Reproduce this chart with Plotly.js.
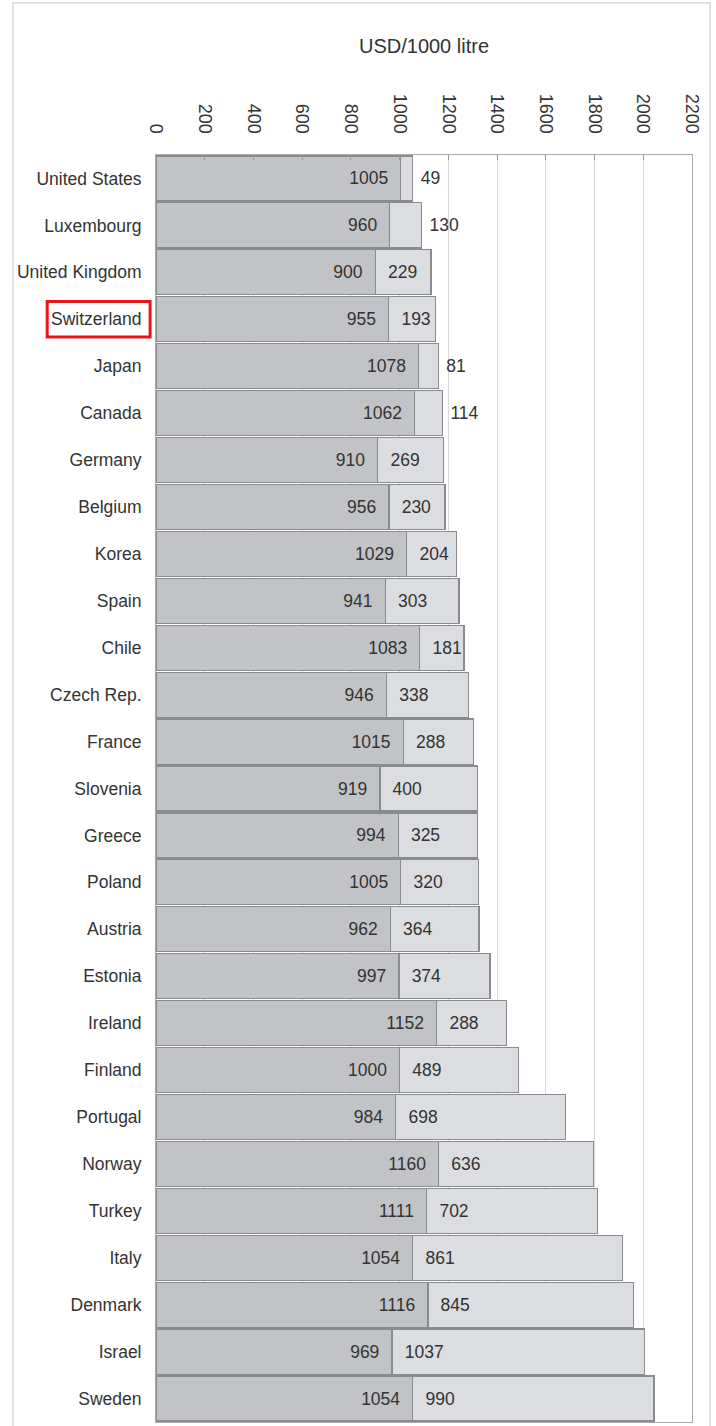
<!DOCTYPE html>
<html>
<head>
<meta charset="utf-8">
<script src="https://cdn.plot.ly/plotly-3.0.1.min.js"></script>
<style>html,body{margin:0;padding:0;background:#fff;}#chart{width:716px;height:1426px;}</style>
</head>
<body>
<div id="chart"></div>
<script>
const countries = ["United States","Luxembourg","United Kingdom","Switzerland","Japan","Canada","Germany","Belgium","Korea","Spain","Chile","Czech Rep.","France","Slovenia","Greece","Poland","Austria","Estonia","Ireland","Finland","Portugal","Norway","Turkey","Italy","Denmark","Israel","Sweden"];
const baseValues = [1005,960,900,955,1078,1062,910,956,1029,941,1083,946,1015,919,994,1005,962,997,1152,1000,984,1160,1111,1054,1116,969,1054];
const addValues = [49,130,229,193,81,114,269,230,204,303,181,338,288,400,325,320,364,374,288,489,698,636,702,861,845,1037,990];
const tickVals = [0,200,400,600,800,1000,1200,1400,1600,1800,2000,2200];
const axisTitle = "USD/1000 litre";

const NB = "\u00a0";
const FAM = "'Liberation Sans',Arial,sans-serif";
const labelFont = {family: FAM, size: 17.5, color: "#333"};

const trace1 = {
  type: "bar", orientation: "h",
  y: countries, x: baseValues,
  marker: {color: "#c2c3c7", line: {color: "#8a8b8e", width: 1.2}},
  text: baseValues.map(v => v + NB + NB),
  textposition: "inside", insidetextanchor: "end", textangle: 0,
  textfont: labelFont, constraintext: "none",
  hoverinfo: "x+y"
};
const trace2 = {
  type: "bar", orientation: "h",
  y: countries, x: addValues,
  marker: {color: "#dcdde0", line: {color: "#8a8b8e", width: 1.2}},
  text: addValues.map(v => (v < 150 ? NB : NB + NB) + v),
  textposition: addValues.map(v => v < 150 ? "outside" : "inside"),
  insidetextanchor: "start", textangle: 0,
  textfont: labelFont, outsidetextfont: labelFont, constraintext: "none",
  cliponaxis: false,
  hoverinfo: "x+y"
};

const layout = {
  width: 716, height: 1426,
  margin: {l: 156, r: 24, t: 155, b: 4, pad: 0},
  paper_bgcolor: "#fff", plot_bgcolor: "#fff",
  barmode: "stack", bargap: 0.04,
  showlegend: false,
  font: {family: FAM, color: "#333"},
  xaxis: {
    side: "top", range: [0, 2200], tickvals: tickVals, ticktext: tickVals.map(String),
    tickangle: 90, ticks: "inside", ticklen: 5, tickcolor: "#999",
    tickfont: {family: FAM, size: 18, color: "#333"}, ticklabelstandoff: 14,
    showgrid: true, gridcolor: "#d9d9d9", gridwidth: 1,
    showline: true, linecolor: "#aaa", linewidth: 1, mirror: true,
    zeroline: false,
    title: {text: axisTitle, font: {family: FAM, size: 20, color: "#333"}, standoff: 34}
  },
  yaxis: {
    autorange: "reversed", type: "category",
    tickfont: labelFont, ticks: "", ticklabelstandoff: 10,
    showline: true, linecolor: "#aaa", linewidth: 1, mirror: true,
    showgrid: false
  },
  shapes: [
    {type: "rect", xref: "paper", yref: "paper", x0: -0.2668, x1: 1.0336, y0: -0.02, y1: 1.12,
     line: {color: "#cfcfcf", width: 1.2}, fillcolor: "rgba(0,0,0,0)", layer: "below"},
    {type: "rect", xref: "paper", yref: "y", x0: -0.203, x1: -0.011, y0: 3 - 0.38, y1: 3 + 0.38,
     line: {color: "#e8161b", width: 3}, fillcolor: "rgba(0,0,0,0)"}
  ]
};

Plotly.newPlot("chart", [trace1, trace2], layout, {displayModeBar: false, staticPlot: true});
</script>
</body>
</html>
